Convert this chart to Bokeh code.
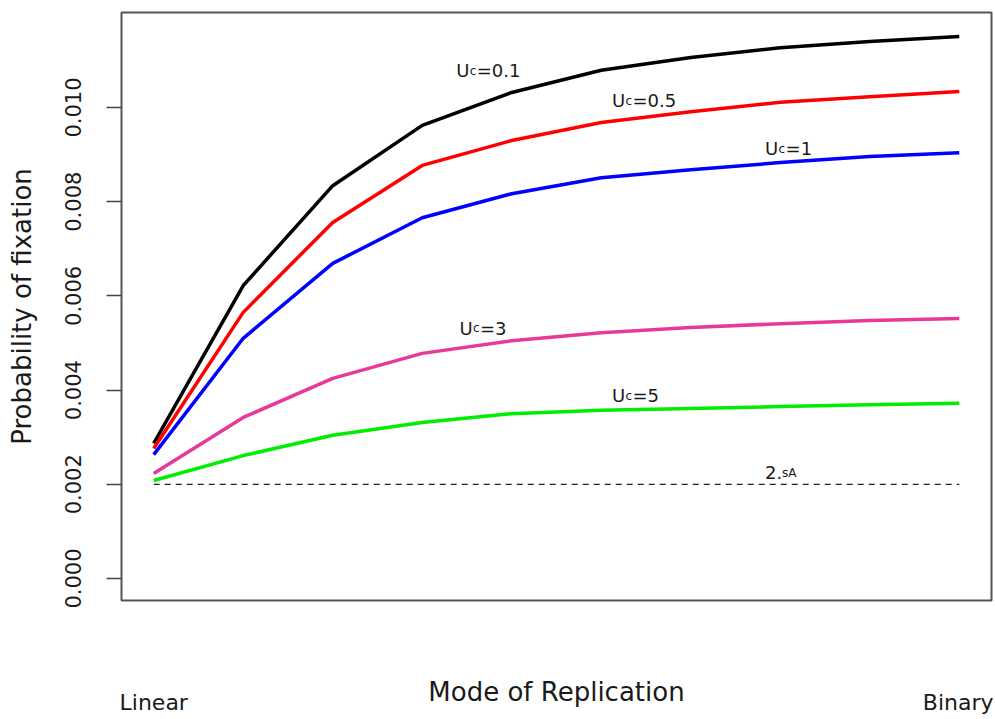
from bokeh.plotting import figure
from bokeh.models import Range1d, FixedTicker, NumeralTickFormatter
from bokeh.core.properties import value
from bokeh.embed import file_html
from bokeh.resources import INLINE

# ---- data ----
steps = [1, 2, 3, 4, 5, 6, 7, 8, 9, 10]
uc_values = ["0.1", "0.5", "1", "3", "5"]
colors = ["#000000", "#FF0000", "#0000FF", "#E8399A", "#00EE00"]
p_uc01 = [0.00287, 0.00622, 0.00834, 0.00962, 0.01032, 0.01079, 0.01106, 0.01127, 0.01140, 0.01151]
p_uc05 = [0.00276, 0.00565, 0.00756, 0.00877, 0.00930, 0.00968, 0.00991, 0.01011, 0.01023, 0.01034]
p_uc1 = [0.00263, 0.00510, 0.00669, 0.00766, 0.00817, 0.00851, 0.00868, 0.00883, 0.00896, 0.00904]
p_uc3 = [0.00223, 0.00342, 0.00425, 0.00478, 0.00505, 0.00522, 0.00533, 0.00541, 0.00548, 0.00552]
p_uc5 = [0.00208, 0.00261, 0.00304, 0.00331, 0.00350, 0.00357, 0.00361, 0.00365, 0.00369, 0.00372]
series = [p_uc01, p_uc05, p_uc1, p_uc3, p_uc5]
threshold_2sA = 0.002
y_ticks = [0.000, 0.002, 0.004, 0.006, 0.008, 0.010]
mode_names = ["Linear", "Binary"]
mode_pos = [1, 10]

# label anchor positions (data units) for the curve annotations
lab_x = [4.38, 6.12, 7.83, 4.415, 6.12]
lab_y = [0.010785, 0.010148, 0.009129, 0.005308, 0.003885]
thr_lab_x = 7.83
thr_lab_y = 0.00225

FONT = "DejaVu Sans"
TXT = "#1a1a1a"

p = figure(width=993, height=717, output_backend="svg", toolbar_location=None,
           x_range=Range1d(0.64, 10.36), y_range=Range1d(-0.000467, 0.012017),
           min_border_left=121, min_border_right=2, min_border_top=12, min_border_bottom=117)
p.background_fill_color = "white"
p.border_fill_color = "white"
p.grid.visible = False
p.outline_line_color = "#555555"
p.outline_line_width = 2

# y axis
ya = p.yaxis[0]
ya.ticker = FixedTicker(ticks=y_ticks)
ya.formatter = NumeralTickFormatter(format="0.000")
ya.axis_line_color = None
ya.major_tick_in = 0
ya.major_tick_out = 15
ya.major_tick_line_color = "#444444"
ya.major_tick_line_width = 1.5
ya.minor_tick_line_color = None
ya.major_label_orientation = "vertical"
ya.major_label_text_font = FONT
ya.major_label_text_font_size = "21px"
ya.major_label_text_color = TXT
ya.major_label_standoff = 25
ya.axis_label = "Probability of fixation"
ya.axis_label_text_font = FONT
ya.axis_label_text_font_size = "26px"
ya.axis_label_text_font_style = "normal"
ya.axis_label_text_color = TXT
ya.axis_label_standoff = 26

# x axis: Linear / Binary as end labels, title drawn just above them
xa = p.xaxis[0]
xa.ticker = FixedTicker(ticks=mode_pos)
xa.major_label_overrides = {pos: name for pos, name in zip(mode_pos, mode_names)}
xa.axis_line_color = None
xa.major_tick_in = 0
xa.major_tick_out = 0
xa.major_tick_line_color = None
xa.minor_tick_line_color = None
xa.major_label_text_font = FONT
xa.major_label_text_font_size = "22px"
xa.major_label_text_color = TXT
xa.major_label_standoff = 89
xa.axis_label = "Mode of Replication"
xa.axis_label_text_font = FONT
xa.axis_label_text_font_size = "26px"
xa.axis_label_text_font_style = "normal"
xa.axis_label_text_color = TXT
xa.axis_label_standoff = -41

# threshold line
p.line(x=[steps[0], steps[-1]], y=[threshold_2sA, threshold_2sA], line_color="#222222",
       line_width=1.3, line_dash="6 5")

# curves
for ys, c in zip(series, colors):
    p.line(x=steps, y=ys, line_color=c, line_width=3.5)

# curve labels: U, subscript c, =value
p.text(x=lab_x, y=lab_y, text=["U"] * len(lab_x), text_font=value(FONT), text_font_size="18px",
       text_color=TXT, text_align="left", text_baseline="alphabetic")
p.text(x=lab_x, y=lab_y, text=["c"] * len(lab_x), text_font=value(FONT), text_font_size="12px",
       text_color=TXT, text_align="left", text_baseline="alphabetic", x_offset=13.5)
p.text(x=lab_x, y=lab_y, text=["=" + v for v in uc_values], text_font=value(FONT), text_font_size="18px",
       text_color=TXT, text_align="left", text_baseline="alphabetic", x_offset=20.5)

p.text(x=[thr_lab_x], y=[thr_lab_y], text=["2."], text_font=value(FONT), text_font_size="18px",
       text_color=TXT, text_align="left", text_baseline="alphabetic")
p.text(x=[thr_lab_x], y=[thr_lab_y], text=["sA"], text_font=value(FONT), text_font_size="12px",
       text_color=TXT, text_align="left", text_baseline="alphabetic", x_offset=17)

open("out.html", "w").write(file_html(p, INLINE))
